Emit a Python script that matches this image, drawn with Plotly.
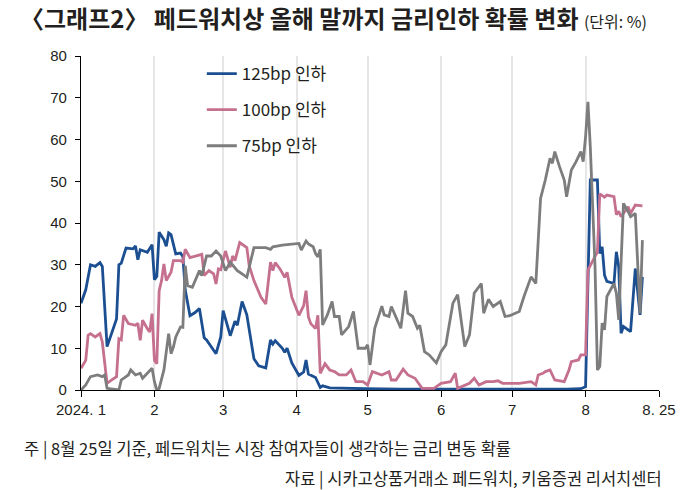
import plotly.graph_objects as go

# ---------------- data ----------------
blue_dates = ["2024-01-01","2024-01-03","2024-01-05","2024-01-07","2024-01-09","2024-01-10","2024-01-12","2024-01-16",
    "2024-01-17","2024-01-18","2024-01-20","2024-01-23","2024-01-24","2024-01-25","2024-01-26","2024-01-29","2024-01-31",
    "2024-02-01","2024-02-02","2024-02-03","2024-02-05","2024-02-06","2024-02-07","2024-02-08","2024-02-10","2024-02-12",
    "2024-02-13","2024-02-14","2024-02-16","2024-02-18","2024-02-20","2024-02-22","2024-02-23","2024-02-27","2024-02-29",
    "2024-03-01","2024-03-04","2024-03-06","2024-03-07","2024-03-09","2024-03-11","2024-03-14","2024-03-16","2024-03-19",
    "2024-03-21","2024-03-22","2024-03-23","2024-03-26","2024-03-27","2024-03-28","2024-03-30","2024-04-02","2024-04-04",
    "2024-04-05","2024-04-06","2024-04-09","2024-04-11","2024-04-12","2024-04-15","2024-04-20","2024-04-30","2024-05-15",
    "2024-05-30","2024-06-14","2024-06-29","2024-07-14","2024-07-24","2024-07-30","2024-08-01","2024-08-03","2024-08-06",
    "2024-08-07","2024-08-08","2024-08-09","2024-08-10","2024-08-13","2024-08-14","2024-08-15","2024-08-16","2024-08-17",
    "2024-08-20","2024-08-22","2024-08-24","2024-08-25"]
blue_vals = [20.8,24,30,29.6,30.5,29.6,10.4,17,
    30,30.4,34,33.8,34.5,31.2,33.6,33,34.8,
    26.4,27.2,37.8,36,34.4,37.6,37.2,32.6,32.8,
    32,24,17.8,18.5,19.5,12.5,12,8.7,12.7,
    19,13,16.5,15.5,21.2,18,7.5,5.8,5.3,
    12,11,11.8,10,9,10,6.5,3.5,4.3,
    7.2,3.8,3,0.6,1,0.5,0.4,0.3,0.2,
    0.2,0.1,0.1,0.1,0.2,0.3,0.8,50.3,50.3,
    32.7,34.3,27.5,26,25.5,33.1,29.5,13.6,15.2,
    14,29.1,18,27.1]

pink_dates = ["2024-01-01","2024-01-03","2024-01-04","2024-01-05","2024-01-07","2024-01-08","2024-01-09","2024-01-10",
    "2024-01-11","2024-01-12","2024-01-14","2024-01-16","2024-01-17","2024-01-18","2024-01-19","2024-01-21","2024-01-24",
    "2024-01-25","2024-01-26","2024-01-27","2024-01-29","2024-01-30","2024-01-31","2024-02-01","2024-02-02","2024-02-03",
    "2024-02-04","2024-02-05","2024-02-06","2024-02-08","2024-02-09","2024-02-12","2024-02-13","2024-02-14","2024-02-16",
    "2024-02-19","2024-02-21","2024-02-22","2024-02-24","2024-02-26","2024-02-27","2024-02-28","2024-02-29","2024-03-02",
    "2024-03-04","2024-03-05","2024-03-06","2024-03-08","2024-03-11","2024-03-12","2024-03-14","2024-03-17","2024-03-19",
    "2024-03-21","2024-03-22","2024-03-23","2024-03-25","2024-03-27","2024-03-28","2024-03-30","2024-04-02","2024-04-04",
    "2024-04-05","2024-04-06","2024-04-07","2024-04-09","2024-04-10","2024-04-11","2024-04-13","2024-04-15","2024-04-17",
    "2024-04-19","2024-04-22","2024-04-24","2024-04-26","2024-04-29","2024-05-01","2024-05-03","2024-05-07","2024-05-10",
    "2024-05-11","2024-05-13","2024-05-16","2024-05-18","2024-05-21","2024-05-24","2024-05-29","2024-06-01","2024-06-05",
    "2024-06-07","2024-06-08","2024-06-13","2024-06-15","2024-06-17","2024-06-20","2024-06-23","2024-06-25","2024-06-27",
    "2024-07-04","2024-07-09","2024-07-11","2024-07-12","2024-07-14","2024-07-15","2024-07-17","2024-07-19","2024-07-23",
    "2024-07-25","2024-07-26","2024-07-29","2024-07-30","2024-08-01","2024-08-02","2024-08-05","2024-08-06","2024-08-07",
    "2024-08-09","2024-08-10","2024-08-13","2024-08-14","2024-08-15","2024-08-16","2024-08-19","2024-08-20","2024-08-22",
    "2024-08-25"]
pink_vals = [5.2,7.1,13.1,13.5,12.7,13.2,13.5,11.5,
    6.5,1.6,2.4,3.2,12.3,12,17.9,15.9,15.5,
    16,11.9,16.7,14.7,13.9,18.3,7.1,6.3,23.8,
    26.2,30.2,26.2,28.2,31,31,30.6,33.7,31.7,
    32.1,32.5,27.4,28.6,27.8,25.4,29,28.8,33.3,
    29.4,32.1,31,35.3,34.1,29.8,26.2,22.2,20.6,
    30.6,28.6,30.5,29,27,28.2,22.2,17.9,20.2,
    23.8,17.5,15.9,14.7,17.9,4,6.3,4.8,4.4,
    3.6,3.6,4.8,2,2,1.2,4.4,3.6,4.4,
    2.4,2.4,5,3.6,2.8,0.4,0.4,1.6,2,
    4,0.4,1.6,2.8,1.2,2,2,2.2,1.6,
    1.6,2,1.2,3.6,4,4.4,4.8,2.4,2,
    4.8,6.8,7.2,8.4,8.4,28.7,32,33,47,
    46.2,46.7,46.3,42,42.8,41.5,43.9,42.3,44.3,
    44.1]

gray_dates = ["2024-01-01","2024-01-03","2024-01-05","2024-01-08","2024-01-10","2024-01-11","2024-01-12","2024-01-16",
    "2024-01-17","2024-01-18","2024-01-21","2024-01-22","2024-01-24","2024-01-26","2024-01-27","2024-01-29","2024-01-31",
    "2024-02-01","2024-02-02","2024-02-03","2024-02-05","2024-02-07","2024-02-08","2024-02-09","2024-02-10","2024-02-12",
    "2024-02-13","2024-02-14","2024-02-15","2024-02-17","2024-02-19","2024-02-20","2024-02-21","2024-02-23","2024-02-25",
    "2024-02-27","2024-02-29","2024-03-02","2024-03-04","2024-03-07","2024-03-09","2024-03-11","2024-03-14","2024-03-19",
    "2024-03-21","2024-03-22","2024-03-26","2024-04-02","2024-04-03","2024-04-05","2024-04-06","2024-04-08","2024-04-09",
    "2024-04-10","2024-04-11","2024-04-12","2024-04-14","2024-04-16","2024-04-17","2024-04-19","2024-04-20","2024-04-23",
    "2024-04-25","2024-04-27","2024-04-30","2024-05-01","2024-05-02","2024-05-04","2024-05-07","2024-05-08","2024-05-10",
    "2024-05-11","2024-05-15","2024-05-17","2024-05-18","2024-05-20","2024-05-22","2024-05-23","2024-05-25","2024-05-27",
    "2024-05-30","2024-06-01","2024-06-03","2024-06-06","2024-06-08","2024-06-11","2024-06-13","2024-06-15","2024-06-18",
    "2024-06-19","2024-06-21","2024-06-23","2024-06-26","2024-06-28","2024-06-30","2024-07-04","2024-07-06","2024-07-09",
    "2024-07-11","2024-07-13","2024-07-15","2024-07-17","2024-07-18","2024-07-19","2024-07-21","2024-07-23","2024-07-24",
    "2024-07-26","2024-07-28","2024-07-30","2024-07-31","2024-08-01","2024-08-02","2024-08-03","2024-08-05","2024-08-06",
    "2024-08-07","2024-08-08","2024-08-09","2024-08-10","2024-08-13","2024-08-14","2024-08-15","2024-08-17","2024-08-19",
    "2024-08-20","2024-08-22","2024-08-23","2024-08-24","2024-08-25"]
gray_vals = [0,1.2,3.2,3.6,3.2,3.6,0.4,0.2,
    0,2.4,3.6,4.8,3.6,4,2.8,4,5.2,
    2,0,0.4,4.8,13.5,8.7,10.3,12.7,15.1,
    15,29.8,25,24.6,27.4,28.6,27.4,32.1,32.1,
    33.3,32.1,28.6,30.6,28.6,27.8,27,34.1,34.1,
    33.7,34.3,34.7,35.1,33.5,35.7,35,34.3,32.7,
    31.9,33.7,15.6,18,21.2,17.6,17.6,13.2,15.2,
    18.8,10,10,10.8,6,14.8,20.1,18,17.6,
    20,14.8,23.8,18.4,17.6,14.8,15.5,9.2,8.4,
    6.5,9.2,10.8,20.8,22.8,10.4,13.2,23.2,25.5,
    18.4,21.7,20,21.2,17.6,17.8,18.8,22.4,27.1,
    25.5,45.9,50.3,55.5,54.3,57.1,53.5,50.3,46.3,
    52.7,54.7,57.1,54.7,60.7,69,58.3,29.5,4.8,
    5.6,16,14.4,22.4,25.5,23.2,16.8,44.7,42.7,
    41.5,42.3,30.7,18.4,35.9]

series_names = ["125bp 인하", "100bp 인하", "75bp 인하"]
series_colors = ["#1c4f91", "#c5708f", "#7d7d7d"]

tick_dates = ["2024-01-01","2024-02-01","2024-03-01","2024-04-01","2024-05-01",
              "2024-06-01","2024-07-01","2024-08-01","2024-09-01"]
tick_labels = ["2024. 1","2","3","4","5","6","7","8","8. 25"]

title_text = "〈그래프2〉 페드워치상 올해 말까지 금리인하 확률 변화"
unit_text = "(단위: %)"
note_text = "주 | 8월 25일 기준, 페드워치는 시장 참여자들이 생각하는 금리 변동 확률"
source_text = "자료 | 시카고상품거래소 페드워치, 키움증권 리서치센터"

# ---------------- figure ----------------
KR = "Noto Sans CJK KR"
NUM = "Liberation Sans, Arial, sans-serif"
TXT = "#231f20"

fig = go.Figure()
for i, (xs, ys) in enumerate([(blue_dates, blue_vals), (pink_dates, pink_vals), (gray_dates, gray_vals)]):
    fig.add_trace(go.Scatter(
        x=xs, y=ys, mode="lines", name=series_names[i],
        legendgroup=f"g{i}",
        line=dict(color=series_colors[i], width=2.8),
    ))

fig.update_layout(
    width=700, height=490,
    margin=dict(l=81, r=41, t=56, b=100),
    paper_bgcolor="white", plot_bgcolor="white",
    title=dict(
        text=f"<b>{title_text}</b> <span style='font-size:16px'>{unit_text}</span>",
        x=20/700, xanchor="left", y=1-20/490, yanchor="middle",
        font=dict(family=KR, size=24, color=TXT),
    ),
    legend=dict(
        x=0.209, y=1.0, xanchor="left", yanchor="top",
        font=dict(family=KR, size=17, color=TXT),
        bgcolor="rgba(0,0,0,0)", tracegroupgap=11,
    ),
    showlegend=True,
)

fig.update_xaxes(
    type="date", range=["2024-01-01", "2024-09-01"],
    tickmode="array", tickvals=tick_dates, ticktext=tick_labels,
    ticks="outside", ticklen=6, tickwidth=1.2, tickcolor="black",
    showline=True, linecolor="black", linewidth=1.2,
    showgrid=True, gridcolor="#e6e6e6", gridwidth=1.5,
    zeroline=False,
    tickfont=dict(family=NUM, size=15, color=TXT),
)
fig.update_yaxes(
    range=[0, 80], dtick=10, tick0=0,
    ticks="outside", ticklen=5, tickwidth=1.2, tickcolor="black",
    showline=True, linecolor="black", linewidth=1.2,
    showgrid=False, zeroline=False, ticklabelstandoff=5,
    tickfont=dict(family=NUM, size=15, color=TXT),
)

fig.add_annotation(text=note_text, xref="paper", yref="paper",
                   x=(22-81)/578, y=(390-448)/334, xanchor="left", yanchor="middle",
                   showarrow=False, font=dict(family=KR, size=16.5, color=TXT))
fig.add_annotation(text=source_text, xref="paper", yref="paper",
                   x=(664-81)/578, y=(390-478)/334, xanchor="right", yanchor="middle",
                   showarrow=False, font=dict(family=KR, size=16.5, color=TXT))

fig.write_html("out.html", config={"displayModeBar": False},
               post_script="document.body.style.margin='0';")
